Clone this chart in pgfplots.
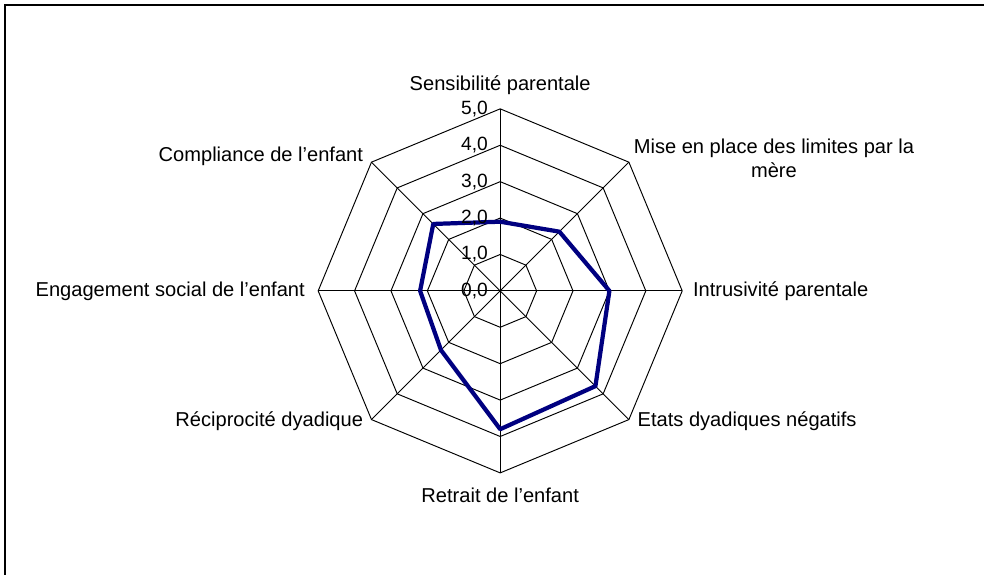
\documentclass[border=0pt]{standalone}
\usepackage{pgfplots}
\pgfplotsset{compat=1.18}
\usepackage{fontspec}
\setmainfont{Liberation Sans}
\definecolor{navyline}{RGB}{0,0,128}

\begin{document}
\begin{tikzpicture}[
    ticklab/.style={anchor=east, inner sep=0pt, font=\fontsize{15}{17}\selectfont},
]
\begin{axis}[
    x=1cm, y=1cm,
    xmin=-5, xmax=5, ymin=-5, ymax=5,
    hide axis, clip=false,
    font=\fontsize{15.7}{18.5}\selectfont,
    gridline/.style={black, line width=0.75pt, no marks, data cs=polar},
]
    % rings 1..5
    \pgfplotsinvokeforeach{1,2,3,4,5}{
        \addplot[gridline] coordinates {
            (90,#1) (45,#1) (0,#1) (-45,#1) (-90,#1) (-135,#1) (180,#1) (135,#1) (90,#1)
        };
    }
    % spokes
    \addplot[gridline] coordinates {(90,5) (270,5)};
    \addplot[gridline] coordinates {(45,5) (225,5)};
    \addplot[gridline] coordinates {(0,5) (180,5)};
    \addplot[gridline] coordinates {(135,5) (315,5)};

    % scores
    \addplot[navyline, line width=3.3pt, line join=round, no marks, data cs=polar] coordinates {
        (90,1.9) (45,2.3) (0,3.0) (-45,3.7) (-90,3.8)
        (-135,2.3) (180,2.2) (135,2.6) (90,1.9)
    };

    % radial tick labels
    \node[ticklab] at (axis cs:-0.33,0) {0,0};
    \node[ticklab] at (axis cs:-0.33,1) {1,0};
    \node[ticklab] at (axis cs:-0.33,2) {2,0};
    \node[ticklab] at (axis cs:-0.33,3) {3,0};
    \node[ticklab] at (axis cs:-0.33,4) {4,0};
    \node[ticklab] at (axis cs:-0.33,5) {5,0};

    % category labels
    \node[inner sep=0pt] at (axis cs:0,5.66) {Sensibilité parentale};
    \node[inner sep=0pt, align=center] at (axis cs:7.52,3.65) {Mise en place des limites par la\\mère};
    \node[inner sep=0pt, anchor=west] at (axis cs:5.29,0) {Intrusivité parentale};
    \node[inner sep=0pt, anchor=west] at (axis cs:3.77,-3.59) {Etats dyadiques négatifs};
    \node[inner sep=0pt] at (axis cs:0,-5.62) {Retrait de l’enfant};
    \node[inner sep=0pt, anchor=east] at (axis cs:-3.76,-3.59) {Réciprocité dyadique};
    \node[inner sep=0pt, anchor=east] at (axis cs:-5.36,0) {Engagement social de l’enfant};
    \node[inner sep=0pt, anchor=east] at (axis cs:-3.76,3.69) {Compliance de l’enfant};

    % outer frame (right and bottom edges fall outside the picture)
    \draw[line width=1.6pt] (axis cs:15,7.86) -- (axis cs:-13.6,7.86) -- (axis cs:-13.6,-10);

    \coordinate (bl) at (axis cs:-13.74,-7.80);
    \coordinate (tr) at (axis cs:13.29,7.99);
\end{axis}
\pgfresetboundingbox
\path[use as bounding box] (bl) rectangle (tr);
\end{tikzpicture}
\end{document}
